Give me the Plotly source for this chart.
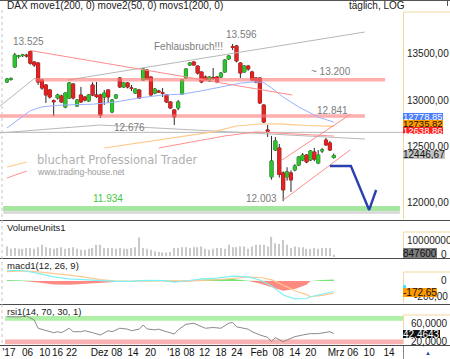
import math
import plotly.graph_objects as go

W, H = 450, 359
FONT = "Liberation Sans, Arial, sans-serif"

# ---------------- data ----------------
DAYS = list(range(85))
OPEN = [13192,13220,13350,13462,13470,13475,13515,13403,13392,13213,
        13161,13109,12998,13026,13046,12933,13026,13171,12943,13057,
        13036,12995,13161,13057,13057,13036,13109,12882,13026,13234,
        13140,13182,13130,13077,13109,13213,13318,13244,13077,13098,
        13080,13057,12985,12903,12923,13067,13234,13371,13403,13360,
        13297,13244,13202,13240,13244,13244,13297,13435,13565,13574,
        13392,13297,13360,13297,13234,13234,12954,12700,12236,12500,
        12520,12275,12236,12275,12304,12352,12401,12450,12401,12480,
        12372,12490,12599,12570,12425]
HIGH = [13234,13240,13500,13480,13490,13490,13525,13410,13400,13225,
        13170,13120,13010,13070,13060,13085,13192,13180,13015,13140,
        13045,13065,13190,13192,13070,13109,13115,13015,13065,13244,
        13190,13192,13161,13125,13115,13339,13325,13250,13130,13110,
        13129,13065,12990,12910,13005,13220,13335,13403,13410,13365,
        13300,13260,13250,13339,13255,13297,13435,13477,13596,13585,
        13400,13370,13370,13310,13245,13240,12960,12750,12640,12629,
        12560,12290,12330,12300,12360,12440,12470,12460,12500,12520,
        12500,12520,12620,12590,12465]
LOW = [13182,13205,13340,13440,13455,13450,13375,13350,13161,13110,
       12974,13020,12841,13010,12975,12920,13015,13010,12935,12975,
       12990,12985,13045,13026,12821,12954,12974,12870,13015,13129,
       13130,13125,13098,13070,13015,13205,13215,13050,13065,13080,
       13036,12975,12915,12750,12900,13060,13225,13360,13365,13270,
       13180,13200,13195,13213,13180,13234,13290,13425,13530,13400,
       13234,13290,13310,13200,13180,12965,12770,12630,12210,12490,
       12230,12003,12200,12092,12290,12340,12390,12370,12390,12390,
       12360,12470,12540,12490,12415]
CLOSE = [13223,13229,13477,13465,13478,13468,13390,13371,13192,13129,
         13057,13036,12988,13057,12985,13077,13182,13026,13005,12985,
         13005,13057,13057,13040,12851,13077,13036,13005,13057,13140,
         13182,13140,13125,13119,13026,13329,13223,13057,13119,13088,
         13075,12985,12923,12831,12985,13213,13329,13392,13371,13286,
         13192,13213,13244,13230,13192,13286,13424,13467,13559,13414,
         13286,13360,13329,13213,13192,12974,12780,12687,12392,12590,
         12260,12111,12285,12207,12343,12431,12450,12382,12490,12410,
         12450,12500,12550,12500,12446.67]
VOLUME_M = [6, 4.5, 5, 4.5, 4.5, 5, 5, 4.5, 5.5, 7,
            5.5, 5, 4.5, 5, 5.5, 4.5, 5, 5.5, 4.5, 4,
            4, 4.5, 5, 7, 7, 5, 5, 5, 4.5, 5,
            4.5, 4.5, 5, 5.5, 11.5, 5, 4.5, 4, 3, 2.5,
            2.2, 2.2, 2.5, 5, 5, 5.5, 5.5, 5, 5.5, 5.5,
            6, 4.5, 4, 4.5, 5, 5, 4.5, 7, 5.5, 5.5,
            6, 6, 4.5, 6, 7, 7, 7, 6, 12, 8,
            7.5, 10, 7, 5, 6, 5.5, 5.5, 4.5, 4.5, 5,
            4.5, 5, 5, 5, 0.85]

# moving averages (day index, value)
MA50_X = [0, 3, 6, 9, 13, 18, 22, 28, 34, 40, 45, 50, 56, 60, 64, 66, 68, 71, 75, 80, 84]
MA50_Y = [12720, 12810, 12895, 12935, 12950, 12958, 12962, 12985, 13026, 13057, 13065,
          13100, 13150, 13180, 13195, 13185, 13130, 13036, 12933, 12831, 12779]
MA200_X = [25, 53, 59, 65, 70, 77, 84]
MA200_Y = [12520, 12680, 12740, 12760, 12762, 12745, 12736]
MAS200_X = [39, 56, 64, 72, 84]
MAS200_Y = [12520, 12640, 12680, 12665, 12639]
SEG_ORANGE_X, SEG_ORANGE_Y = [0, 5.1], [12333, 12382]
SEG_RED_X, SEG_RED_Y = [0, 5.1], [12226, 12294]

# drawn lines / levels
TREND_RED_X, TREND_RED_Y = [6, 73.3], [13525, 13057]
GRAY_STEEP_X, GRAY_STEEP_Y = [-1.8, 7.2], [12943, 13234]
GRAY_RISE_X, GRAY_RISE_Y = [15.7, 92], [13213, 13725]
GRAY_V_X, GRAY_V_Y = [-1.8, 23.9, 92], [12670, 12750, 12609]
LEVEL_12676 = 12676
LEVEL_13200 = 13215
LEVEL_12841 = 12841
LEVEL_11934 = 11934
LEVEL_BOTTOM = 11896
CH_UP_X, CH_UP_Y = [70.7, 88.4], [12401, 12862]
CH_LO_X, CH_LO_Y = [71, 88.2], [12014, 12500]
PROJ_X = [83, 88.4, 93.1, 94.9]
PROJ_Y = [12343, 12343, 11920, 12110]
ELLIPSE_X = [56.0, 62.2]
ELLIPSE_Y = [13467, 13617]

# MACD
MACD_X = [0, 4, 8, 12, 16, 20, 24, 28, 32, 36, 40, 43, 46, 50, 54, 58, 62, 65, 68, 71, 74, 77, 78, 81, 84]
MACD_LINE = [150, 150, 110, 60, 30, 15, 0, -5, -5, 10, 5, -15, 0, 30, 40, 70, 60, 15, -70, -200,
             -255, -250, -225, -190, -150]
MACD_SIGNAL = [135, 145, 130, 110, 85, 55, 20, 0, -5, -3, 0, 0, 5, 10, 18, 40, 55, 50, 20, -60,
               -140, -195, -225, -205, -172.65]
MACD_HIST = [15, 5, -20, -50, -55, -40, -20, -5, 0, 13, 5, -15, -5, 20, 22, 30, 5, -35, -90, -140,
             -115, -55, 0, 15, 22.65]

# RSI
RSI_X = [0, 3, 5, 7, 8, 10, 12, 13, 14, 16, 17, 19, 20, 22, 24, 26, 27, 29, 31, 32, 34, 35, 36, 38, 39,
         41, 43, 44, 46, 48, 50, 51, 53, 55, 57, 58, 59, 60, 62, 63, 65, 67, 68, 69, 70, 71, 73, 74,
         76, 78, 80, 81, 83, 84]
RSI_V = [78.5, 78, 80, 71.5, 54, 50, 44.5, 46.6, 44.5, 54, 46.6, 46.6, 48.7, 44.5, 39.6, 48.7, 46.6,
         54, 52, 48.7, 52, 60.8, 52.5, 50.5, 52, 46.6, 41.7, 50.5, 62.3, 64.5, 57, 54, 55.5, 54, 64.5,
         66.5, 57, 55.5, 52, 46.6, 39.6, 34.7, 25.3, 34, 29, 25.3, 32.6, 36, 39.6, 42.5, 42.5, 43.8,
         46.6, 42.46]

TICK_POS = [0.5, 5.3, 9.7, 13.0, 16.6, 23.8, 28.2, 32.4, 36.9, 42.9, 46.8, 50.8, 55, 59.1, 64.8,
            69.7, 74, 78.1, 84.6, 88.9, 93.1, 98.2]
TICK_TEXT = ["'17", "06", "10", "16", "22", "Dez", "08", "14", "20", "'18", "08", "12", "18", "24",
             "Feb", "08", "14", "20", "Mrz", "06", "10", "14"]

# ---------------- layout geometry ----------------
def fy(py):
    return 1 - py / H

X_RANGE = [-1.8, 101.8]
XDOM = [0, 403 / W]
# main price axis calibration (log): 13000 at pixel 100.5, 1262 px per ln unit
P_TOP = 13000 * math.exp((100.5 - 0) / 1262)
P_BOT = 13000 * math.exp((100.5 - 219) / 1262)

GREEN = "#2ec42e"
RED = "#e82020"

fig = go.Figure()

def line(x, y, color, width=1, yaxis="y", dash=None):
    fig.add_trace(go.Scatter(x=x, y=y, mode="lines", yaxis=yaxis, hoverinfo="skip",
                             line=dict(color=color, width=width, dash=dash)))

# levels and bands
line([-1.8, 101.8], [LEVEL_12676] * 2, "#b8b8b8", 1)
line(GRAY_V_X, GRAY_V_Y, "#b8b8b8", 1)
line(GRAY_STEEP_X, GRAY_STEEP_Y, "#b8b8b8", 1)
line(GRAY_RISE_X, GRAY_RISE_Y, "#b8b8b8", 1)
line([7.2, 97.2], [LEVEL_13200] * 2, "rgba(255,120,120,0.6)", 3.5)
line([-1.8, 92], [LEVEL_12841] * 2, "rgba(255,120,120,0.6)", 3.5)
line([-1, 101], [LEVEL_11934] * 2, "#a6e6a0", 5)
line([-1, 101], [LEVEL_BOTTOM] * 2, "#d6d6d6", 2.5)
# moving averages
line(MA50_X, MA50_Y, "#9ab0ff", 1)
line(MA200_X, MA200_Y, "#ffc888", 1.2)
line(MAS200_X, MAS200_Y, "#ff9090", 1)
line(SEG_ORANGE_X, SEG_ORANGE_Y, "#ffc888", 1.2)
line(SEG_RED_X, SEG_RED_Y, "#ff9090", 1)
# trend lines
line(TREND_RED_X, TREND_RED_Y, "#ff8c8c", 1)
line(CH_UP_X, CH_UP_Y, "#ff8c8c", 1)
line(CH_LO_X, CH_LO_Y, "#ff8c8c", 1)

# candles: wicks (dark) then bodies without outline
fig.add_trace(go.Candlestick(
    x=DAYS, open=OPEN, high=HIGH, low=LOW, close=CLOSE, hoverinfo="skip",
    increasing=dict(line=dict(color="#2a2a2a", width=1), fillcolor=GREEN),
    decreasing=dict(line=dict(color="#2a2a2a", width=1), fillcolor=RED),
    whiskerwidth=0))
BODY_HI = [max(o, c) for o, c in zip(OPEN, CLOSE)]
BODY_LO = [min(o, c) for o, c in zip(OPEN, CLOSE)]
fig.add_trace(go.Candlestick(
    x=DAYS, open=OPEN, high=BODY_HI, low=BODY_LO, close=CLOSE, hoverinfo="skip",
    increasing=dict(line=dict(color=GREEN, width=0.6), fillcolor=GREEN),
    decreasing=dict(line=dict(color=RED, width=0.6), fillcolor=RED),
    whiskerwidth=0))

# projection
line(PROJ_X, PROJ_Y, "#2b3fb0", 2.4)

# volume
fig.add_trace(go.Bar(x=DAYS, y=VOLUME_M, yaxis="y2", width=0.32, hoverinfo="skip",
                     marker=dict(color="#c9c9c9", line=dict(width=0))))

# MACD
fig.add_trace(go.Scatter(x=MACD_X, y=[max(h, 0) for h in MACD_HIST], yaxis="y3", mode="lines",
                         fill="tozeroy", fillcolor="#74e274", line=dict(width=0), hoverinfo="skip"))
fig.add_trace(go.Scatter(x=MACD_X, y=[min(h, 0) for h in MACD_HIST], yaxis="y3", mode="lines",
                         fill="tozeroy", fillcolor="#ff8a82", line=dict(width=0), hoverinfo="skip"))
line(MACD_X, MACD_SIGNAL, "#ffc890", 1.2, yaxis="y3")
line(MACD_X, MACD_LINE, "#7ff0f4", 1.2, yaxis="y3")

# RSI
line(RSI_X, RSI_V, "#8a8a8a", 1, yaxis="y4")

ax_common = dict(showgrid=False, zeroline=False, showticklabels=False, showline=False,
                 anchor="x", fixedrange=True, automargin=False)
fig.update_layout(
    width=W, height=H, margin=dict(l=0, r=0, t=0, b=0, autoexpand=False),
    paper_bgcolor="white", plot_bgcolor="white", showlegend=False,
    boxmode="overlay", boxgap=0.22, boxgroupgap=0, hovermode=False,
    font=dict(family=FONT),
    xaxis=dict(domain=XDOM, range=X_RANGE, anchor="y4", showgrid=False, zeroline=False,
               showline=False, ticks="", tickvals=TICK_POS, ticktext=TICK_TEXT, tickangle=0,
               automargin=False, ticklabelstandoff=0, ticklabeloverflow="allow",
               tickfont=dict(family=FONT, size=10, color="#111"),
               rangeslider=dict(visible=False), fixedrange=True),
    yaxis=dict(domain=[fy(219), 1], type="log",
               range=[math.log10(P_BOT), math.log10(P_TOP)], **ax_common),
    yaxis2=dict(domain=[fy(257), fy(222)], range=[-0.6, 21.25], **ax_common),
    yaxis3=dict(domain=[fy(304), fy(261)], range=[-328.6, 285.7], **ax_common),
    yaxis4=dict(domain=[fy(345), fy(305)], range=[18.3, 103.4], **ax_common),
)

shapes = []
def hline(py, x0, x1, color, width=1, dash=None):
    shapes.append(dict(type="line", xref="paper", yref="paper", x0=x0 / W, x1=x1 / W,
                       y0=fy(py), y1=fy(py), line=dict(color=color, width=width, dash=dash)))
def vline(px, y0, y1, color, width=1, dash=None):
    shapes.append(dict(type="line", xref="paper", yref="paper", x0=px / W, x1=px / W,
                       y0=fy(y0), y1=fy(y1), line=dict(color=color, width=width, dash=dash)))

# RSI zones
shapes.append(dict(type="rect", xref="x", yref="y4", x0=-0.5, x1=X_RANGE[1], y0=70, y1=80,
                   fillcolor="#aef0a6", line=dict(width=0), layer="below"))
shapes.append(dict(type="rect", xref="x", yref="y4", x0=-0.5, x1=X_RANGE[1], y0=20, y1=30,
                   fillcolor="#f8b2b2", line=dict(width=0), layer="below"))
# false-breakout ellipse
shapes.append(dict(type="circle", xref="x", yref="y", x0=ELLIPSE_X[0], x1=ELLIPSE_X[1],
                   y0=math.log10(ELLIPSE_Y[0]), y1=math.log10(ELLIPSE_Y[1]),
                   fillcolor="rgba(255,110,110,0.45)", line=dict(color="rgba(235,90,90,0.5)", width=1),
                   layer="above"))
# frame lines
hline(0.5, 0, W, "#555")
vline(447.5, 0, 6, "#555")
for py in (220.5, 258.5, 304.5, 345.5):
    hline(py, 0, W, "#4a4a4a")
vline(2, 10, 345, "#c4c4c4", 1, "dot")
YEL = "#f1d9a0"
for top, bot in ((12, 219), (232, 257), (272, 303), (315, 344)):
    vline(403.5, top, bot, YEL)
    hline(top, 403.5, W, YEL)
vline(403.5, 346, 359, "#888")
fig.update_layout(shapes=shapes)

anns = []
def txt(s, x, y, size=10, color="#222", xanchor="left", family=FONT, **kw):
    anns.append(dict(text=s, x=x / W, y=fy(y), xref="paper", yref="paper", xanchor=xanchor,
                     yanchor="middle", showarrow=False,
                     font=dict(family=family, size=size, color=color), **kw))
def box(s, x, y, bg, fg, h=8, size=10):
    txt(s, x, y, size=size, color=fg, bgcolor=bg, height=h, borderpad=0, borderwidth=0)

# header
txt("DAX move1(200, 0) move2(50, 0) movs1(200, 0)", 5, 6, size=10, color="#1a1a1a")
txt("täglich, LOG", 347, 6, size=10, color="#1a1a1a")
# chart labels
GL = "#7c7c7c"
txt("13.525", 28, 41, size=10, color=GL, xanchor="center")
txt("Fehlausbruch!!!", 188, 46, size=10, color=GL, xanchor="center")
txt("13.596", 241, 34, size=10, color=GL, xanchor="center")
txt("~ 13.200", 331, 71, size=10, color=GL, xanchor="center")
txt("12.841", 332, 110, size=10, color=GL, xanchor="center")
txt("12.676", 129, 127, size=10, color=GL, xanchor="center")
txt("12.003", 261, 198, size=10, color=GL, xanchor="center")
txt("11.934", 108, 199, size=10, color="#3fc93f", xanchor="center")
# watermark
txt("bluchart Professional Trader", 35, 160, size=11.5, color="#b0b0b0", family="DejaVu Sans, sans-serif")
txt("www.trading-house.net", 35, 172, size=8.5, color="#9a9a9a")
# panel titles
txt("VolumeUnits1", 5, 228, size=9.5, color="#1a1a1a")
txt("macd1(12, 26, 9)", 5, 265, size=9.5, color="#1a1a1a")
txt("rsi1(14, 70, 30, 1)", 5, 311, size=9.5, color="#1a1a1a")

# right price scale
txt("13500,00", 405, 53, size=10)
txt("13000,00", 405, 100.5, size=10)
txt("12500,00", 405, 146.5, size=10)
txt("12000,00", 405, 202, size=10)
box("12778,85", 403, 116.5, "#4b7dff", "white", h=7, size=9.5)
box("12735,82", 403, 123.5, "#ff9a00", "#111", h=7, size=9.5)
box("12638,86", 403, 130.5, "#ff2020", "white", h=7, size=9.5)
box("12446,67", 403, 155, "#c4c4c4", "#111", h=9)
# volume scale
txt("10000000", 405, 240, size=10)
txt("0", 449, 254, size=10, xanchor="right")
box("847600", 403, 253, "#7e7e7e", "#111", h=10)
# macd scale
txt("0", 449, 280, size=10, xanchor="right")
txt("-200,00", 450, 296, size=10, xanchor="right")
box(" ", 403, 287, "#44e8f4", "#44e8f4", h=4)
box("-172,65", 403, 292.5, "#ff9a00", "#111", h=9)
# rsi scale
txt("60,0000", 450, 323, size=10, xanchor="right")
txt("20,0000", 450, 341, size=10, xanchor="right")
box("42,4643", 403, 333.5, "#111", "white", h=8)
txt("▲", 428, 353, size=6, color="#2b4db0", xanchor="center")
fig.update_layout(annotations=anns)

fig.write_html("out.html")
